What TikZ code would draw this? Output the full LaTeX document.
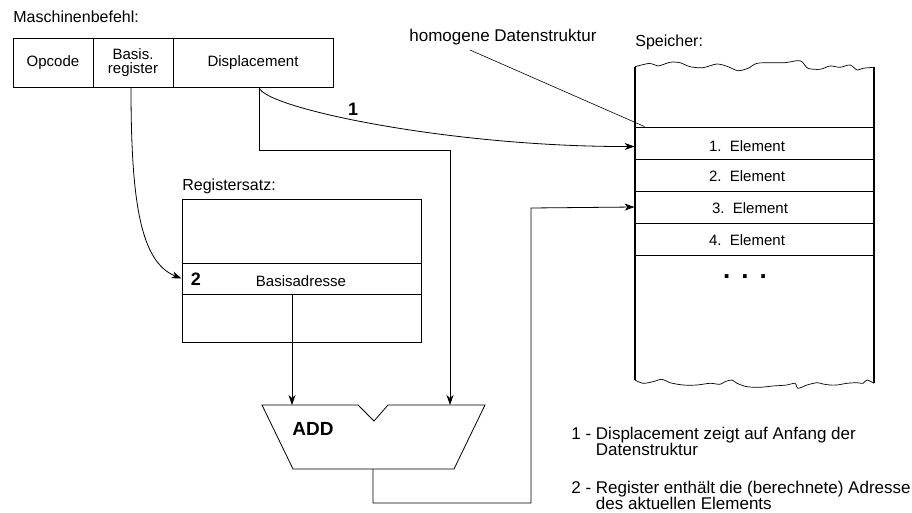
\documentclass[tikz,border=0pt]{standalone}
\usepackage{fontspec}
\setmainfont{Liberation Sans}
\usetikzlibrary{arrows.meta}
\newcommand{\tightlines}{\lineskiplimit=-20pt\relax}

\begin{document}
\begin{tikzpicture}[x=1pt,y=-1pt,line width=0.8pt,
  font=\fontsize{15}{14}\selectfont\tightlines,
  field/.style={draw,rectangle,inner sep=0pt,minimum height=49pt,align=center},
  regrow/.style={draw,rectangle,inner sep=0pt,minimum width=239pt},
  memrow/.style={draw,rectangle,inner sep=0pt,minimum width=239pt,minimum height=32pt},
  title/.style={anchor=base west,inner sep=0pt,font=\fontsize{16}{16}\selectfont},
  bignum/.style={inner sep=0pt,font=\fontsize{18}{18}\selectfont\bfseries},
  legend/.style={anchor=north west,inner sep=0pt,align=left,
    font=\fontsize{17}{15.5}\selectfont\tightlines},
  arr/.style={-{Stealth[length=10pt,width=7pt,inset=3pt]}},
  memwall/.style={line width=2pt}]
\useasboundingbox (0,0) rectangle (912,513);

% ---------- instruction word ----------
\node[title] (mbtitle) at (13,23) {Maschinenbefehl:};
\node[field,minimum width=80pt]  (opc)  at (53,62.5)  {Opcode};
\node[field,minimum width=80pt]  (bas)  at (133,62.5) {Basis.\\register};
\node[field,minimum width=160pt] (disp) at (253,62.5) {Displacement};

% ---------- register file ----------
\node[title] (rstitle) at (182,190) {Registersatz:};
\node[regrow,minimum height=64pt] (rtop)  at (301.5,231)   {};
\node[regrow,minimum height=31pt] (rbase) at (301.5,278.5) {};
\node[regrow,minimum height=48pt] (rbot)  at (301.5,318)   {};
\node[bignum] (two) at (196,279) {2};
\node (basadr) at (301,281) {Basisadresse};

% ---------- memory ----------
\node[title] (sptitle) at (635,47) {Speicher:};
\node[title,font=\fontsize{17}{17}\selectfont] (homog) at (409,42) {homogene Datenstruktur};
\node[memrow] (e1) at (754.5,143) {};
\node[memrow] (e2) at (754.5,175) {};
\node[memrow] (e3) at (754.5,207) {};
\node[memrow] (e4) at (754.5,239) {};
\node at (747,146) {1.\ \ Element};
\node at (747,176) {2.\ \ Element};
\node at (750,208) {3.\ \ Element};
\node at (747,240) {4.\ \ Element};
\node[font=\fontsize{26}{26}\selectfont\bfseries] (dots) at (745,277) {.\hspace{11pt}.\hspace{11pt}.};

% torn upper and lower edges of the memory block
\draw[line width=0.7pt] plot[smooth,tension=0.5] coordinates {
  (635,66.7) (650,63.3) (658,66) (670,62.3) (680,62.7) (690,66.7) (703,67.7)
  (717,64) (728,66.7) (738,70.7) (748,68.3) (757,63.3) (773,62.7) (785,62.7)
  (797,60.7) (802,61.7) (808,68.3) (820,69.3) (830,66) (840,67.3) (850,65)
  (857,70) (863,68.3) (874,67.3)};
\draw[line width=0.7pt] plot[smooth,tension=0.5] coordinates {
  (635,380) (643,383.3) (653,381.7) (662,379.3) (670,382.7) (683,385) (697,385)
  (710,383.3) (720,384.3) (725,381.7) (732,380) (737,383.3) (747,386.7)
  (760,387.3) (773,386) (787,385) (795,383.3) (798,388.3) (807,385) (817,382.7)
  (823,384) (830,385) (837,385) (847,383.3) (857,382.7) (863,383.3) (867,380)
  (874,383.3)};
\draw[memwall] (635,66.7) -- (635,380);
\draw[memwall] (874,67.3) -- (874,383.3);

% ---------- adder ----------
\coordinate (addinA) at (292,405);
\coordinate (addinB) at (450,405);
\coordinate (addout) at (373,469);
\draw (262,405) -- (358,405) -- (374,421) -- (388,405) -- (485,405)
      -- (454,469) -- (293,469) -- cycle;
\node[font=\fontsize{19}{19}\selectfont\bfseries] (add) at (313,429) {ADD};

% ---------- connectors ----------
\coordinate (basdown) at (292,294);
\coordinate (dispcorner) at (259,150);
\coordinate (dispturn) at (450,150);
\coordinate (outlow) at (373,503);
\coordinate (outright) at (531,503);
\coordinate (outup) at (531,208);

\draw[arr] ([xshift=-2pt]bas.south) .. controls (131,200) and (140,262) .. (rbase.west);
\draw[arr] ([xshift=6pt]disp.south) .. controls (264,108) and (450,147)
      .. ([yshift=-3.5pt]e1.west);
\node[bignum] (one) at (353,109) {1};
\draw[arr] ([xshift=6pt]disp.south) -- (dispcorner) -- (dispturn) -- (addinB);
\draw[arr] (basdown) -- (addinA);
\draw[arr] (addout) -- (outlow) -- (outright) -- (outup) -- (e3.west);
\draw[line width=0.6pt] (470,50) -- ([xshift=10pt]e1.north west);

% ---------- legend ----------
\node[legend] (leg1) at (571,427) {1 - Displacement zeigt auf Anfang der\\\phantom{1 - }Datenstruktur};
\node[legend] (leg2) at (571,481) {2 - Register enthält die (berechnete) Adresse\\\phantom{2 - }des aktuellen Elements};
\end{tikzpicture}
\end{document}
